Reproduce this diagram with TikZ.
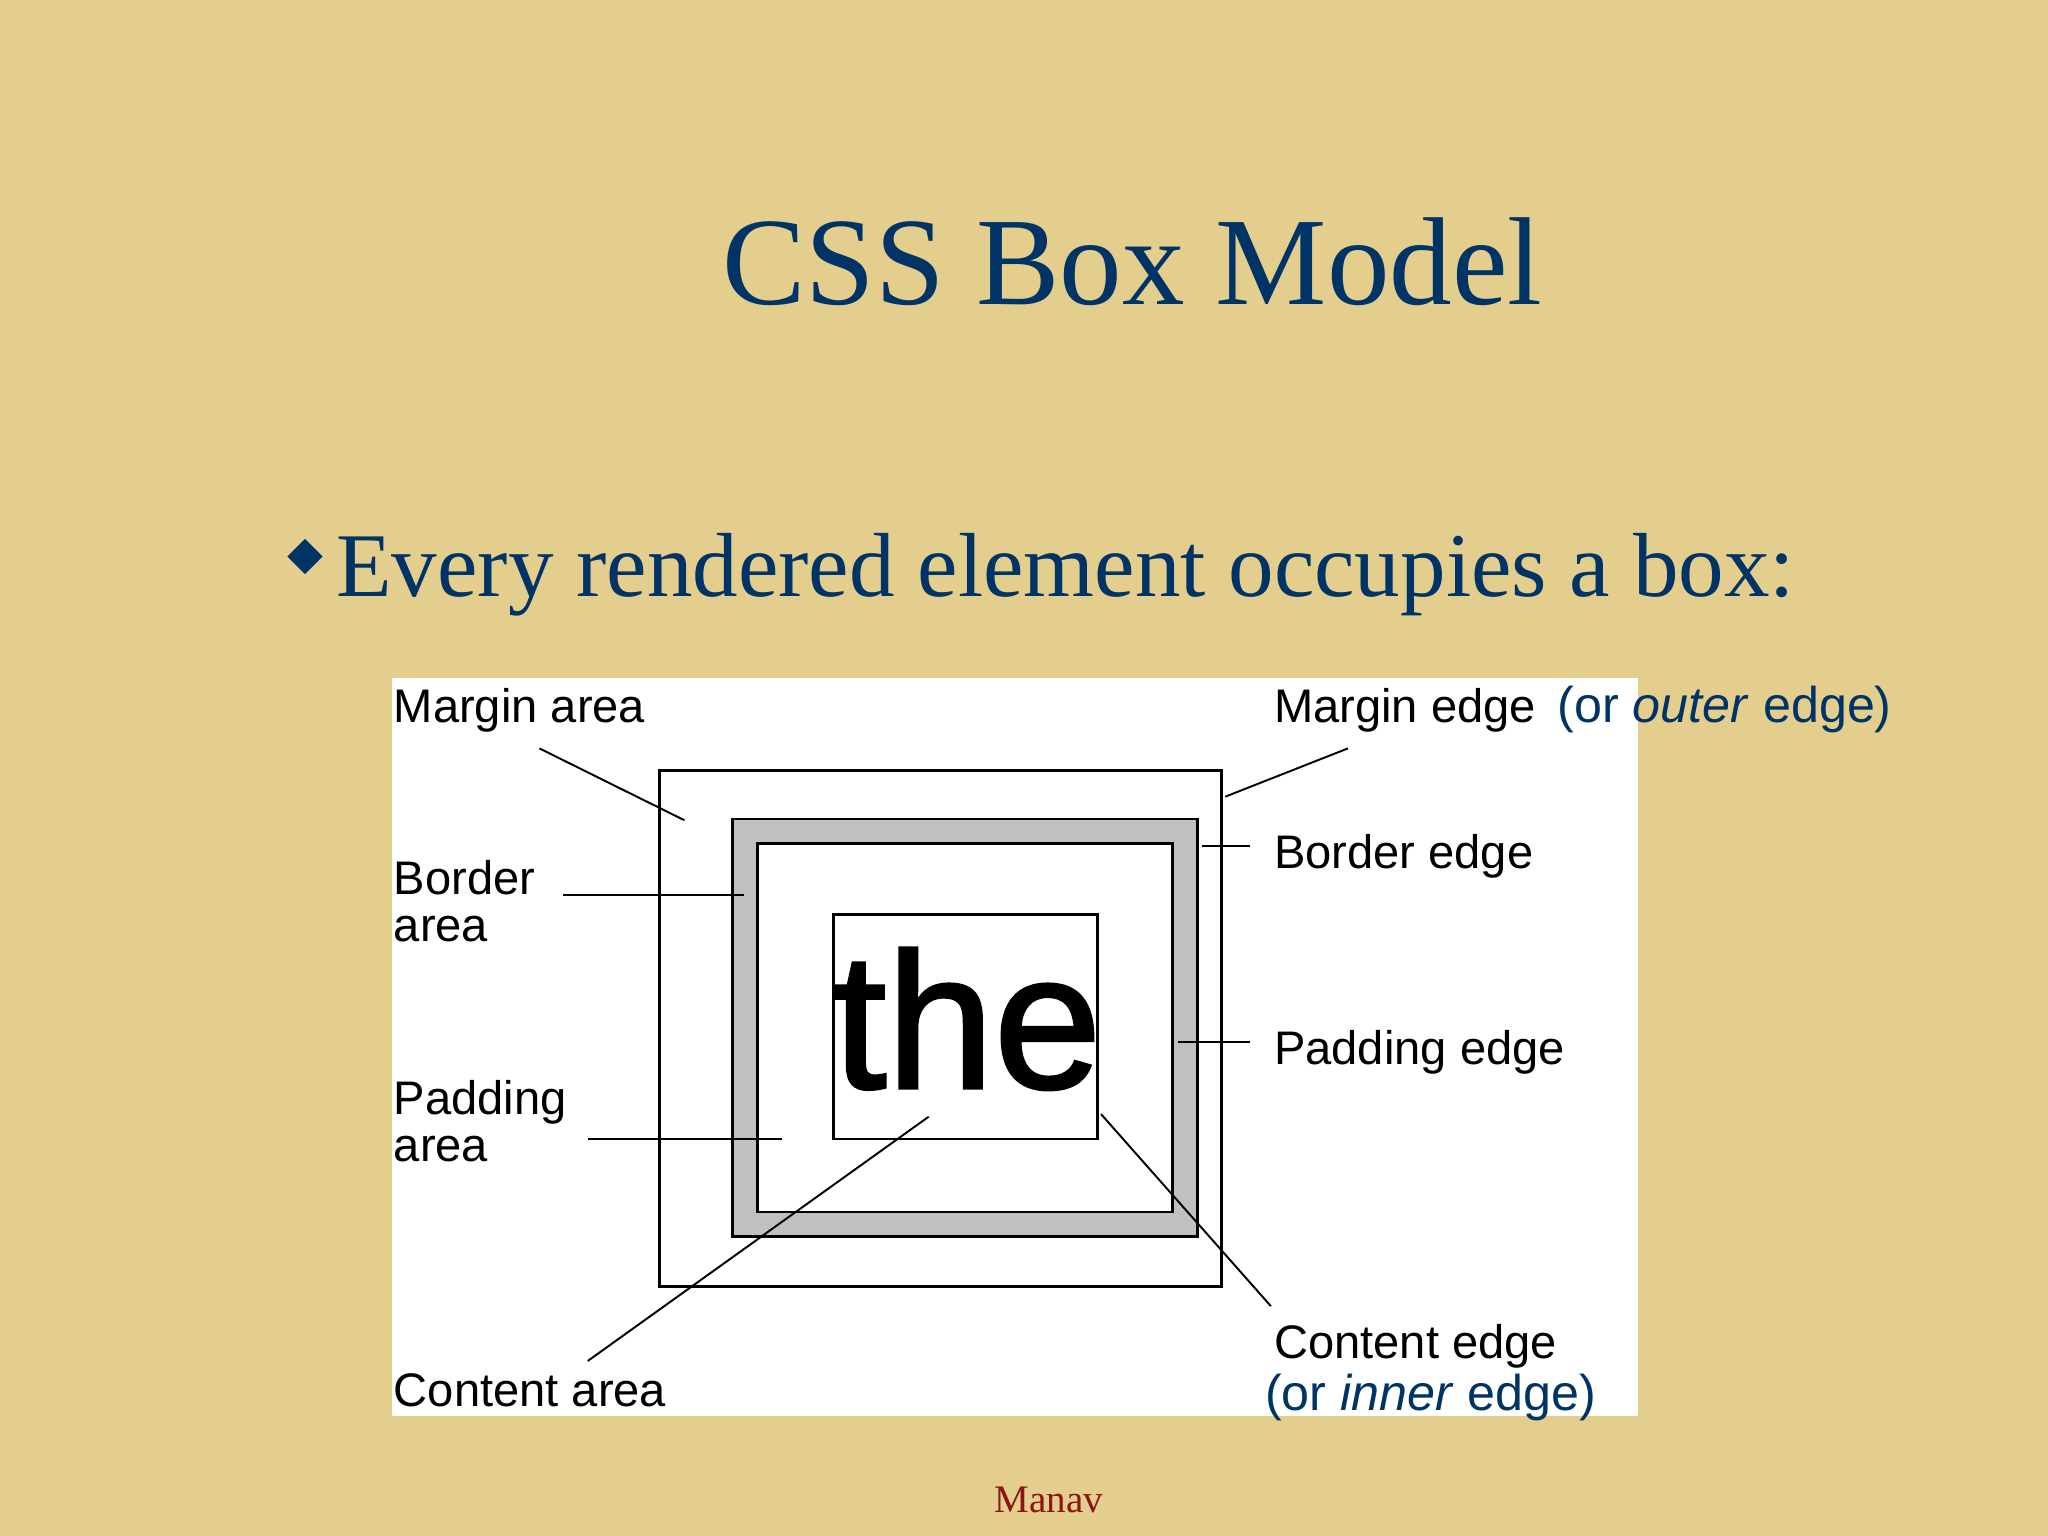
\documentclass[tikz,border=0pt]{standalone}
\usepackage{fontspec}
\setmainfont{Liberation Serif}
\newfontfamily\arialf{Liberation Sans}
\newfontfamily\thefont{Liberation Sans}[FakeBold=1.6]
\definecolor{bg}{RGB}{228,206,142}
\definecolor{ttl}{RGB}{0,51,102}
\definecolor{mnv}{RGB}{140,20,20}
\definecolor{bdr}{RGB}{192,192,192}
\tikzset{
  lbl/.style={anchor=base west,inner sep=0pt,font=\arialf\fontsize{13.4}{16}\selectfont,text=black},
  blu/.style={anchor=base west,inner sep=0pt,font=\arialf\fontsize{14.3}{17}\selectfont,text=ttl},
  lead/.style={draw=black,line width=0.55pt},
  boxline/.style={draw=black,line width=0.8pt},
}
\begin{document}
\begin{tikzpicture}[x=0.013061cm,y=-0.013061cm]
\useasboundingbox (0,0) rectangle (1568,1176);
\fill[bg] (0,0) rectangle (1568,1176);
% title
\node[anchor=base,inner sep=0pt,text=ttl,font=\fontsize{35.6}{42}\selectfont] (title) at (867,233) {CSS Box Model};
% bullet
\fill[ttl] (220,426) -- (233.5,412.5) -- (247,426) -- (233.5,439.5) -- cycle;
\node[anchor=base west,inner sep=0pt,text=ttl,font=\fontsize{25.9}{31}\selectfont] (bullet) at (257,457) {Every rendered element occupies a box:};
% white panel
\fill[white] (300,519) rectangle (1254,1084);
% boxes
\draw[boxline] (505,590) rectangle (935,985);
\fill[bdr] (561,627) rectangle (917,947);
\draw[boxline] (561,627) rectangle (917,947);
\fill[white] (580,646) rectangle (898,928);
\draw[boxline] (580,646) rectangle (898,928);
\begin{scope}
\clip (638,700) rectangle (840,872);
\node[anchor=base west,inner sep=0pt,font=\thefont\fontsize{55}{60}\selectfont] (the) at (637,833) {the};
\end{scope}
\draw[boxline] (638,700) rectangle (840,872);
% labels left
\node[lbl] (marea) at (301,553) {Margin area};
\node[lbl] (barea1) at (301,685) {Border};
\node[lbl] (barea2) at (301,721) {area};
\node[lbl] (parea1) at (301,853) {Padding};
\node[lbl] (parea2) at (301,889) {area};
\node[lbl] (carea) at (301,1077) {Content area};
% labels right
\node[lbl] (medge) at (975,553) {Margin edge};
\node[blu] (medge2) at (1192,553) {(or \textit{outer} edge)};
\node[lbl] (bedge) at (975,665) {Border edge};
\node[lbl] (pedge) at (975,815) {Padding edge};
\node[lbl] (cedge) at (975,1040) {Content edge};
\node[blu] (cedge2) at (968,1080) {(or \textit{inner} edge)};
% leader coordinates
\coordinate (ma1) at (413,573); \coordinate (ma2) at (524,628);
\coordinate (me1) at (1032,573); \coordinate (me2) at (938,610);
\coordinate (be1) at (957,648); \coordinate (be2) at (920,648);
\coordinate (ba1) at (431,685); \coordinate (ba2) at (570,685);
\coordinate (pe1) at (957,798); \coordinate (pe2) at (902,798);
\coordinate (pa1) at (450,872); \coordinate (pa2) at (599,872);
\coordinate (ca1) at (450,1042); \coordinate (ca2) at (711,855);
\coordinate (ce1) at (973,1000); \coordinate (ce2) at (843,853);
\draw[lead] (ma1) -- (ma2);
\draw[lead] (me1) -- (me2);
\draw[lead] (be1) -- (be2);
\draw[lead] (ba1) -- (ba2);
\draw[lead] (pe1) -- (pe2);
\draw[lead] (pa1) -- (pa2);
\draw[lead] (ca1) -- (ca2);
\draw[lead] (ce1) -- (ce2);
% footer
\node[anchor=base,inner sep=0pt,text=mnv,font=\fontsize{11.1}{13}\selectfont] (manav) at (803,1158) {Manav};
\end{tikzpicture}
\end{document}
